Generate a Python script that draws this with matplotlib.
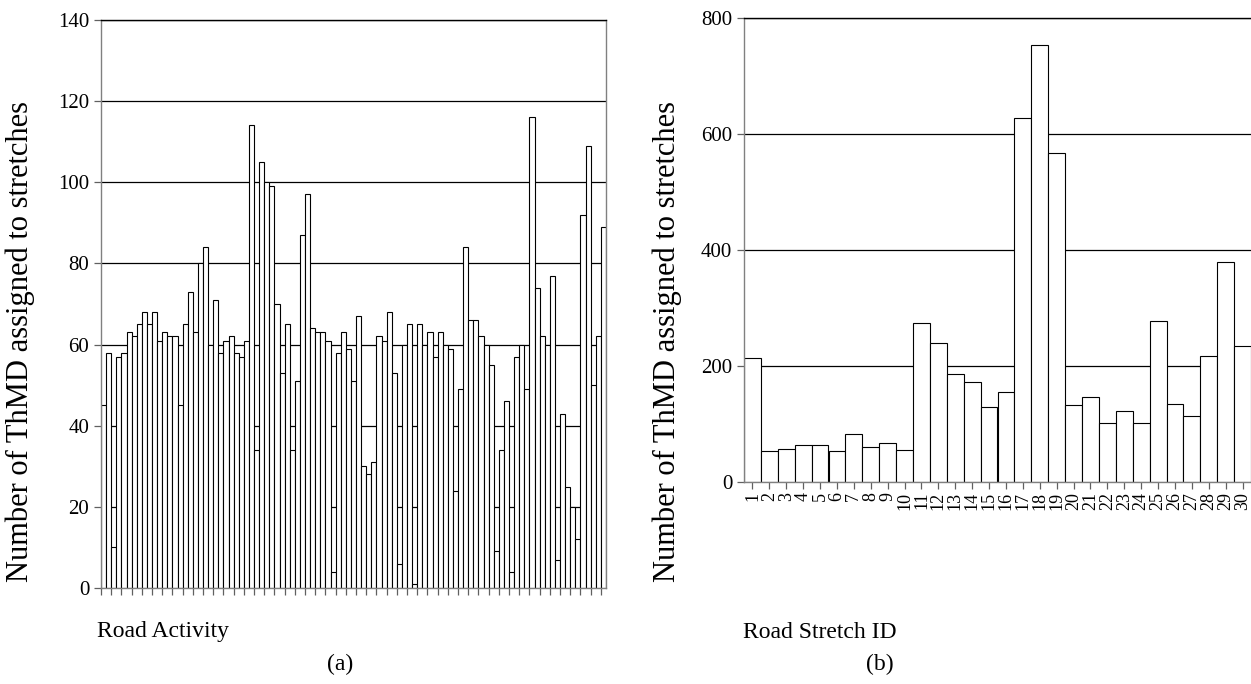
import numpy as np
import matplotlib
matplotlib.use("Agg")
import matplotlib.pyplot as plt

plt.rcParams['font.family'] = ['Liberation Serif', 'DejaVu Serif']

# (a) ThMD per road activity
activity_counts = [45, 58, 10, 57, 58, 63, 62, 65, 68, 65, 68, 61, 63, 62, 62, 45, 65, 73, 63, 80,
                   84, 60, 71, 58, 61, 62, 58, 57, 61, 114, 34, 105, 100, 99, 70, 53, 65, 34, 51, 87,
                   97, 64, 63, 63, 61, 4, 58, 63, 59, 51, 67, 30, 28, 31, 62, 61, 68, 53, 6, 60,
                   65, 1, 65, 60, 63, 57, 63, 60, 59, 24, 49, 84, 66, 66, 62, 60, 55, 9, 34, 46,
                   4, 57, 60, 49, 116, 74, 62, 60, 77, 7, 43, 25, 20, 12, 92, 109, 50, 62, 89]

# (b) ThMD per road stretch
stretch_ids = list(range(1, 31))
stretch_counts = [214, 53, 57, 64, 64, 53, 83, 60, 67, 56, 275, 239, 187, 173, 129, 156, 628, 753, 567, 133,
                  146, 101, 123, 102, 277, 135, 113, 217, 379, 234]

fig = plt.figure(figsize=(12.51, 6.84), dpi=100)
W, H = 1251, 684

def style_axes(ax):
    ax.set_axisbelow(True)
    ax.grid(axis='y', color='black', linewidth=0.9)
    ax.grid(axis='x', visible=False)
    for s in ['left', 'bottom', 'right', 'top']:
        ax.spines[s].set_color('#808080')
        ax.spines[s].set_linewidth(1.0)
    ax.tick_params(axis='both', direction='out', length=5, width=0.9, color='#606060',
                   labelsize=15)

# left panel
ax1 = fig.add_axes([101 / W, 1 - 588 / H, (606 - 101) / W, (588 - 20) / H])
x1 = np.arange(1, len(activity_counts) + 1)
ax1.bar(x1, activity_counts, width=1.0, color='white', edgecolor='black', linewidth=0.8)
ax1.set_xlim(0.5, len(activity_counts) + 0.5)
ax1.set_ylim(0, 140)
ax1.set_yticks(np.arange(0, 141, 20))
ax1.set_xticks(np.arange(0.5, len(activity_counts) + 0.5, 2))
ax1.set_xticklabels([])
style_axes(ax1)
ax1.spines['top'].set_color('black')

# right panel
ax2 = fig.add_axes([744 / W, 1 - 482 / H, (1251 - 744) / W, (482 - 18) / H])
ax2.bar(stretch_ids, stretch_counts, width=1.0, color='white', edgecolor='black', linewidth=0.8)
ax2.set_xlim(0.5, 30.5)
ax2.set_ylim(0, 800)
ax2.set_yticks(np.arange(0, 801, 200))
ax2.set_xticks(stretch_ids)
ax2.set_xticklabels([str(i) for i in stretch_ids], rotation=90)
style_axes(ax2)
ax2.tick_params(axis='x', labelsize=13, pad=2)
ax2.spines['top'].set_color('black')
ax2.spines['right'].set_visible(False)

# labels
fig.text(20 / W, 1 - 342 / H, 'Number of ThMD assigned to stretches', rotation=90,
         ha='center', va='center', fontsize=22)
fig.text(667 / W, 1 - 342 / H, 'Number of ThMD assigned to stretches', rotation=90,
         ha='center', va='center', fontsize=22)
fig.text(97 / W, 1 - 632 / H, 'Road Activity', ha='left', va='center', fontsize=17)
fig.text(743 / W, 1 - 632 / H, 'Road Stretch ID', ha='left', va='center', fontsize=17)
fig.text(340 / W, 1 - 664 / H, '(a)', ha='center', va='center', fontsize=17)
fig.text(880 / W, 1 - 664 / H, '(b)', ha='center', va='center', fontsize=17)

fig.savefig('out.png', dpi=100, facecolor='white')
